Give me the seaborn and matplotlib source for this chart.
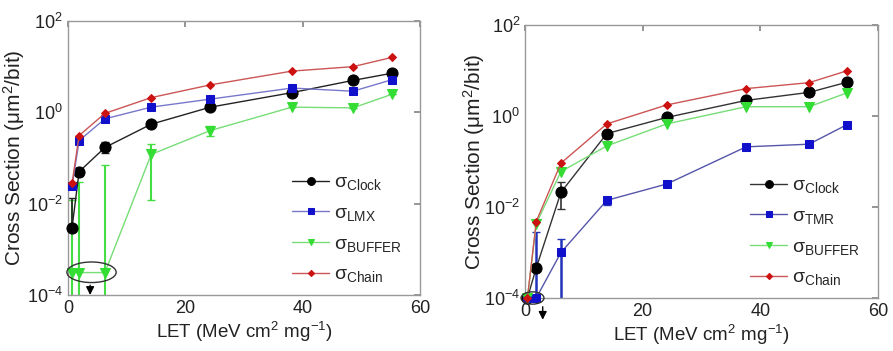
import numpy as np
import seaborn as sns
import matplotlib.pyplot as plt
from matplotlib.patches import Ellipse

# data (LET in MeV cm2/mg, cross section in um2/bit)
let_left = [0.7, 1.9, 6.3, 14.2, 24.3, 38.2, 48.6, 55.3]
clock_left = [3.0e-3, 0.05, 0.17, 0.55, 1.3, 2.7, 5.0, 7.2]
lmx_left = [0.024, 0.24, 0.72, 1.3, 1.95, 3.4, 2.9, 5.2]
buffer_left = [3.1e-4, 3.1e-4, 3.1e-4, 0.12, 0.40, 1.3, 1.25, 2.5]
chain_left = [0.028, 0.31, 0.95, 2.1, 4.0, 8.0, 10.0, 16.0]

clock_left_lo = [3.0e-3, 0.04, 0.13, 0.55, 1.3, 2.7, 5.0, 7.2]
clock_left_hi = [0.013, 0.06, 0.22, 0.55, 1.3, 2.7, 5.0, 7.2]
buffer_left_lo = [1e-6, 1e-6, 1e-6, 0.012, 0.30, 1.3, 1.25, 2.5]
buffer_left_hi = [0.012, 0.03, 0.07, 0.20, 0.50, 1.3, 1.25, 2.5]

let_right = [0.4, 1.9, 6.1, 13.9, 24.1, 37.6, 48.3, 54.7]
clock_right = [1e-4, 4.6e-4, 0.021, 0.41, 0.93, 2.2, 3.3, 5.5]
tmr_right = [1e-4, 1e-4, 1.0e-3, 0.014, 0.032, 0.21, 0.24, 0.64]
buffer_right = [1e-4, 4.3e-3, 0.06, 0.22, 0.67, 1.6, 1.6, 3.2]
chain_right = [1e-4, 4.8e-3, 0.092, 0.67, 1.75, 4.0, 5.4, 9.8]

clock_right_lo = [1e-4, 4.6e-4, 0.009, 0.41, 0.93, 2.2, 3.3, 5.5]
clock_right_hi = [1e-4, 4.6e-4, 0.036, 0.41, 0.93, 2.2, 3.3, 5.5]
tmr_right_lo = [1e-4, 1e-6, 1e-6, 0.011, 0.032, 0.21, 0.24, 0.64]
tmr_right_hi = [1e-4, 2.8e-3, 2.0e-3, 0.016, 0.032, 0.21, 0.24, 0.64]

yticks = [1e-4, 1e-2, 1e0, 1e2]
xticks = [0, 20, 40, 60]

sns.set_theme(style='white')
plt.rcParams['font.family'] = ['Liberation Sans', 'DejaVu Sans']
plt.rcParams['mathtext.fontset'] = 'custom'
plt.rcParams['mathtext.rm'] = 'Liberation Sans'
plt.rcParams['mathtext.it'] = 'Liberation Sans:italic'
plt.rcParams['mathtext.bf'] = 'Liberation Sans:bold'
plt.rcParams['xtick.direction'] = 'in'
plt.rcParams['ytick.direction'] = 'in'

fig = plt.figure(figsize=(8.93, 3.51), dpi=100)
ax1 = fig.add_axes([0.0761, 0.1595, 0.394, 0.7807])
ax2 = fig.add_axes([0.588, 0.151, 0.395, 0.7778])


def draw_series(ax, x, y, line_col, mark_col, marker, ms, label):
    sns.lineplot(x=x, y=y, ax=ax, color=line_col, marker=marker, markersize=ms,
                 markerfacecolor=mark_col, markeredgecolor=mark_col, linewidth=1,
                 sort=False, estimator=None, label=label, clip_on=False, zorder=3)


def draw_err(ax, x, y, lo, hi, col, lw=1.2):
    y = np.array(y)
    err = [y - np.array(lo), np.array(hi) - y]
    ax.errorbar(x, y, yerr=err, fmt='none', ecolor=col, elinewidth=lw, capsize=3, zorder=2)


# left panel
draw_err(ax1, let_left, buffer_left, buffer_left_lo, buffer_left_hi, '#44dd44', 1.5)
draw_err(ax1, let_left, clock_left, clock_left_lo, clock_left_hi, '#222222')
draw_series(ax1, let_left, clock_left, '#222222', 'black', 'o', 8, 'σ$_{\\mathregular{Clock}}$')
draw_series(ax1, let_left, lmx_left, '#7777cc', '#1111cc', 's', 6, 'σ$_{\\mathregular{LMX}}$')
draw_series(ax1, let_left, buffer_left, '#77dd77', '#33dd33', 'v', 7, 'σ$_{\\mathregular{BUFFER}}$')
draw_series(ax1, let_left, chain_left, '#cc5555', '#cc1111', 'D', 4.5, 'σ$_{\\mathregular{Chain}}$')

# right panel
draw_err(ax2, let_right, tmr_right, tmr_right_lo, tmr_right_hi, '#2233bb', 1.8)
draw_err(ax2, let_right, clock_right, clock_right_lo, clock_right_hi, '#333333')
draw_series(ax2, let_right, clock_right, '#333333', 'black', 'o', 8, 'σ$_{\\mathregular{Clock}}$')
draw_series(ax2, let_right, tmr_right, '#5555aa', '#1111cc', 's', 6, 'σ$_{\\mathregular{TMR}}$')
draw_series(ax2, let_right, buffer_right, '#77dd77', '#33dd33', 'v', 7, 'σ$_{\\mathregular{BUFFER}}$')
draw_series(ax2, let_right, chain_right, '#cc5555', '#cc1111', 'D', 4.5, 'σ$_{\\mathregular{Chain}}$')

for ax, lab_x in ((ax1, -0.117), (ax2, -0.108)):
    ax.set_yscale('log')
    ax.set_xlim(0, 60)
    ax.set_ylim(1e-4, 1e2)
    ax.set_xticks(xticks)
    ax.set_yticks(yticks)
    ax.minorticks_off()
    ax.tick_params(axis='both', labelsize=13, colors='#888888', labelcolor='#222222',
                   length=4, top=True, right=True)
    for sp in ax.spines.values():
        sp.set_color('#999999')
        sp.set_linewidth(1)
    ax.set_xlabel('LET (MeV cm$^2$ mg$^{-1}$)', fontsize=13.5, color='#222222', labelpad=2)
    ax.set_ylabel('Cross Section (μm$^2$/bit)', fontsize=15, color='#222222')
    ax.yaxis.set_label_coords(lab_x, 0.5)
    leg = ax.legend(loc='lower right', bbox_to_anchor=(1.0, -0.025), frameon=False,
                    fontsize=14, handlelength=1.9, labelspacing=0.62, handletextpad=0.25,
                    markerscale=0.7)

# circled points near the lower axis with arrows
ax1.add_patch(Ellipse((0.067, 0.083), 0.14, 0.075, transform=ax1.transAxes,
                      fill=False, edgecolor='#333333', linewidth=1, clip_on=False, zorder=5))
ax1.annotate('', xy=(0.063, -0.01), xytext=(0.063, 0.046), xycoords='axes fraction',
             arrowprops=dict(arrowstyle='-|>', color='black', lw=1), annotation_clip=False)

ax2.add_patch(Ellipse((0.021, 0.0), 0.065, 0.045, transform=ax2.transAxes,
                      fill=False, edgecolor='#333333', linewidth=1, clip_on=False, zorder=5))
ax2.annotate('', xy=(0.05, -0.09), xytext=(0.05, -0.022), xycoords='axes fraction',
             arrowprops=dict(arrowstyle='-|>', color='black', lw=1), annotation_clip=False)

fig.savefig('out.png', dpi=100)
